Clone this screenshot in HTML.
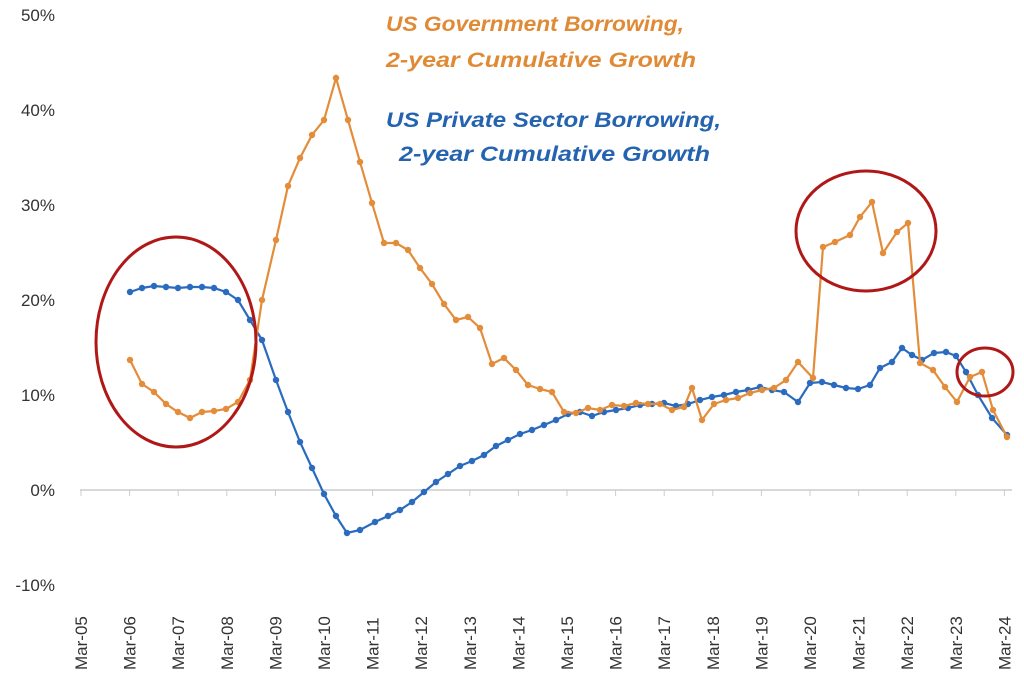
<!DOCTYPE html>
<html><head><meta charset="utf-8"><style>
body{margin:0;background:#fff;}
svg{display:block;font-family:"Liberation Sans",sans-serif;}
</style></head><body>
<svg id="s" width="1024" height="679" viewBox="0 0 1024 679">
<g font-size="17" fill="#333" text-anchor="end">
<text x="55" y="21">50%</text><text x="55" y="116">40%</text><text x="55" y="211">30%</text>
<text x="55" y="306">20%</text><text x="55" y="401">10%</text><text x="55" y="496">0%</text>
<text x="55" y="591">-10%</text>
</g>
<line x1="80" y1="490" x2="1012" y2="490" stroke="#ccc" stroke-width="1.5"/>
<g id="ticks"></g>
<g font-size="21" font-weight="bold" font-style="italic" lengthAdjust="spacingAndGlyphs">
<text x="386" y="31" fill="#e08a35" textLength="298" lengthAdjust="spacingAndGlyphs">US Government Borrowing,</text>
<text x="386" y="67" fill="#e08a35" textLength="310" lengthAdjust="spacingAndGlyphs">2-year Cumulative Growth</text>
<text x="386" y="127" fill="#2463b0" textLength="335" lengthAdjust="spacingAndGlyphs">US Private Sector Borrowing,</text>
<text x="399" y="161" fill="#2463b0" textLength="311" lengthAdjust="spacingAndGlyphs">2-year Cumulative Growth</text>
</g>
<g id="series"></g>
<g fill="none" stroke="#b01818" stroke-width="3">
<ellipse cx="176" cy="342" rx="80" ry="105"/>
<ellipse cx="866" cy="231" rx="70" ry="60"/>
<ellipse cx="985" cy="372" rx="28" ry="24"/>
</g>
</svg>
<script>
var NS="http://www.w3.org/2000/svg",s=document.getElementById("series"),t=document.getElementById("ticks");
for(var i=0;i<20;i++){var x=81+i*48.6;
var l=document.createElementNS(NS,"line");l.setAttribute("x1",x);l.setAttribute("x2",x);l.setAttribute("y1",490);l.setAttribute("y2",496);l.setAttribute("stroke","#ccc");t.appendChild(l);
var tx=document.createElementNS(NS,"text");tx.setAttribute("transform","translate("+(x+6)+",670) rotate(-90)");tx.setAttribute("font-size","17");tx.setAttribute("fill","#333");
tx.textContent="Mar-"+(i+5<10?"0":"")+(i+5);t.appendChild(tx);}
var O=[[130,360],[142,384],[154,392],[166,404],[178,412],[190,418],[202,412],[214,411],[226,409],[238,402],[250,380],[262,300],[276,240],[288,186],[300,158],[312,135],[324,120],[336,78],[348,120],[360,162],[372,203],[384,243],[396,243],[408,250],[420,268],[432,284],[444,304],[456,320],[468,317],[480,328],[492,364],[504,358],[516,370],[528,385],[540,389],[552,392],[564,412],[576,413],[588,408],[600,410],[612,405],[624,406],[636,403],[648,404],[660,404],[672,410],[684,407],[692,388],[702,420],[714,404],[726,400],[738,398],[750,393],[762,390],[774,388],[786,380],[798,362],[813,378],[823,247],[835,242],[850,235],[860,217],[872,202],[883,253],[897,232],[908,223],[920,363],[933,370],[945,387],[957,402],[970,377],[982,372],[993,410],[1007,437]];
var B=[[130,292],[142,288],[154,286],[166,287],[178,288],[190,287],[202,287],[214,288],[226,292],[238,300],[250,320],[262,340],[276,380],[288,412],[300,442],[312,468],[324,494],[336,516],[347,533],[360,530],[375,522],[388,516],[400,510],[412,502],[424,492],[436,482],[448,474],[460,466],[472,461],[484,455],[496,446],[508,440],[520,434],[532,430],[544,425],[556,420],[568,414],[580,412],[592,416],[604,412],[616,410],[628,408],[640,405],[652,404],[664,403],[676,406],[688,404],[700,400],[712,397],[724,395],[736,392],[748,390],[760,387],[772,390],[784,392],[798,402],[810,383],[822,382],[834,385],[846,388],[858,389],[870,385],[880,368],[892,362],[902,348],[912,355],[922,360],[934,353],[946,352],[956,356],[966,372],[978,395],[992,418],[1007,435]];
function draw(P,c){var pl=document.createElementNS(NS,"polyline");pl.setAttribute("points",P.map(function(p){return p.join(",")}).join(" "));
pl.setAttribute("fill","none");pl.setAttribute("stroke",c);pl.setAttribute("stroke-width","2.2");s.appendChild(pl);
P.forEach(function(p){var ci=document.createElementNS(NS,"circle");ci.setAttribute("cx",p[0]);ci.setAttribute("cy",p[1]);ci.setAttribute("r","3.2");ci.setAttribute("fill",c);s.appendChild(ci);});}
draw(B,"#2a6bbf");draw(O,"#e38c3a");
</script>
</body></html>
